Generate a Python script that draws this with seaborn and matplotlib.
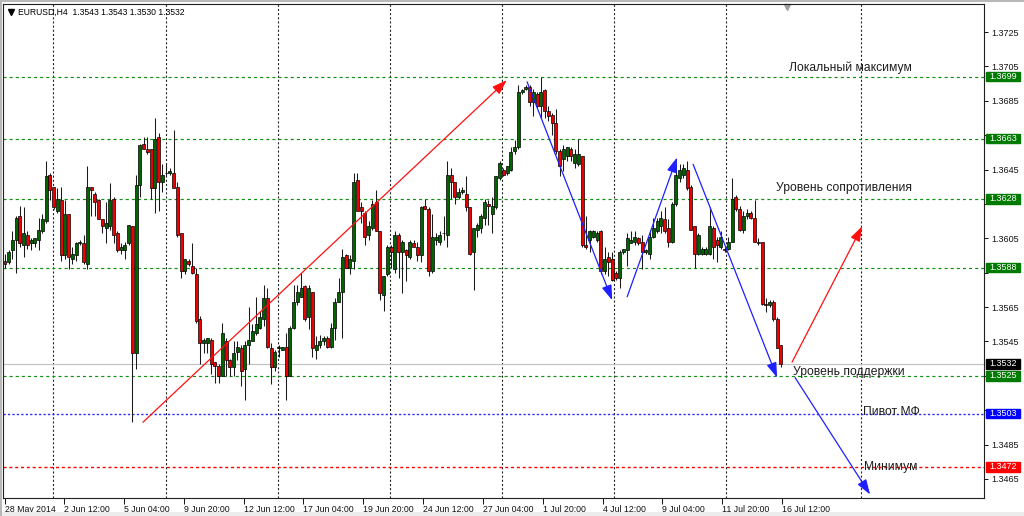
import numpy as np
import pandas as pd
import seaborn as sns
import matplotlib
matplotlib.use('Agg')
import matplotlib.pyplot as plt
import matplotlib.transforms as mtransforms
from matplotlib.patches import Rectangle

# EURUSD H4 bars
open_ = [1.3592, 1.3591, 1.3598, 1.3604, 1.3618, 1.3601, 1.3607, 1.3602, 1.3602, 1.3604,
         1.3609, 1.3615, 1.3642, 1.3635, 1.3621, 1.3627, 1.3595, 1.3619, 1.3593, 1.3595,
         1.3602, 1.3602, 1.3590, 1.3635, 1.3631, 1.3627, 1.3616, 1.3611, 1.3612, 1.3628,
         1.3608, 1.3598, 1.3598, 1.3602, 1.3612, 1.3538, 1.3636, 1.3660, 1.3657, 1.3657,
         1.3634, 1.3664, 1.3638, 1.3643, 1.3643, 1.3643, 1.3635, 1.3608, 1.3586, 1.3592,
         1.3589, 1.3584, 1.3558, 1.3544, 1.3544, 1.3546, 1.3533, 1.3531, 1.3525, 1.3545,
         1.3534, 1.3530, 1.3539, 1.3541, 1.3529, 1.3543, 1.3545, 1.3550, 1.3553, 1.3558,
         1.3570, 1.3541, 1.3530, 1.3541, 1.3540, 1.3542, 1.3525, 1.3553, 1.3568, 1.3571,
         1.3577, 1.3559, 1.3574, 1.3540, 1.3543, 1.3545, 1.3547, 1.3542, 1.3553, 1.3568,
         1.3574, 1.3595, 1.3588, 1.3592, 1.3639, 1.3623, 1.3620, 1.3607, 1.3611, 1.3626,
         1.3609, 1.3572, 1.3584, 1.3600, 1.3587, 1.3607, 1.3597, 1.3598, 1.3594, 1.3602,
         1.3600, 1.3595, 1.3624, 1.3622, 1.3586, 1.3604, 1.3603, 1.3608, 1.3607, 1.3642,
         1.3638, 1.3629, 1.3632, 1.3631, 1.3623, 1.3597, 1.3610, 1.3611, 1.3617, 1.3625,
         1.3619, 1.3623, 1.3640, 1.3645, 1.3643, 1.3645, 1.3656, 1.3658, 1.3690, 1.3692,
         1.3693, 1.3684, 1.3689, 1.3682, 1.3691, 1.3679, 1.3677, 1.3672, 1.3656, 1.3651,
         1.3653, 1.3657, 1.3649, 1.3648, 1.3653, 1.3601, 1.3604, 1.3606, 1.3604, 1.3609,
         1.3586, 1.3594, 1.3593, 1.3585, 1.3582, 1.3597, 1.3598, 1.3602, 1.3603, 1.3605,
         1.3603, 1.3597, 1.3596, 1.3606, 1.3609, 1.3612, 1.3616, 1.3611, 1.3603, 1.3625,
         1.3640, 1.3642, 1.3645, 1.3635, 1.3612, 1.3596, 1.3596, 1.3596, 1.3596, 1.3611,
         1.3604, 1.3600, 1.3599, 1.3599, 1.3603, 1.3629, 1.3622, 1.3610, 1.3618, 1.3620,
         1.3617, 1.3603, 1.3603, 1.3567, 1.3566, 1.3568, 1.3558, 1.3543]
high_ = [1.3596, 1.3598, 1.3609, 1.3618, 1.3624, 1.3623, 1.3609, 1.3605, 1.3605, 1.3617,
         1.3619, 1.3650, 1.3643, 1.3635, 1.3634, 1.3635, 1.3627, 1.3619, 1.3600, 1.3603,
         1.3604, 1.3607, 1.3647, 1.3635, 1.3632, 1.3628, 1.3616, 1.3626, 1.3637, 1.3629,
         1.3609, 1.3602, 1.3603, 1.3613, 1.3612, 1.3642, 1.3660, 1.3664, 1.3664, 1.3657,
         1.3675, 1.3666, 1.3648, 1.3648, 1.3646, 1.3668, 1.3638, 1.3608, 1.3593, 1.3593,
         1.3602, 1.3588, 1.3560, 1.3547, 1.3547, 1.3547, 1.3533, 1.3532, 1.3556, 1.3547,
         1.3535, 1.3545, 1.3545, 1.3543, 1.3545, 1.3565, 1.3555, 1.3571, 1.3563, 1.3578,
         1.3576, 1.3544, 1.3540, 1.3543, 1.3542, 1.3550, 1.3554, 1.3578, 1.3578, 1.3585,
         1.3578, 1.3578, 1.3574, 1.3548, 1.3549, 1.3548, 1.3548, 1.3556, 1.3570, 1.3582,
         1.3599, 1.3596, 1.3595, 1.3643, 1.3643, 1.3626, 1.3621, 1.3615, 1.3627, 1.3633,
         1.3609, 1.3583, 1.3601, 1.3601, 1.3609, 1.3608, 1.3604, 1.3599, 1.3604, 1.3604,
         1.3603, 1.3624, 1.3628, 1.3623, 1.3619, 1.3608, 1.3609, 1.3618, 1.3650, 1.3646,
         1.3638, 1.3634, 1.3635, 1.3641, 1.3623, 1.3611, 1.3614, 1.3619, 1.3628, 1.3627,
         1.3629, 1.3641, 1.3650, 1.3646, 1.3647, 1.3658, 1.3662, 1.3694, 1.3692, 1.3694,
         1.3694, 1.3692, 1.3690, 1.3699, 1.3692, 1.3682, 1.3678, 1.3680, 1.3657, 1.3659,
         1.3658, 1.3658, 1.3657, 1.3663, 1.3653, 1.3618, 1.3610, 1.3610, 1.3609, 1.3610,
         1.3600, 1.3597, 1.3597, 1.3586, 1.3598, 1.3599, 1.3608, 1.3609, 1.3609, 1.3606,
         1.3607, 1.3599, 1.3610, 1.3617, 1.3617, 1.3621, 1.3623, 1.3616, 1.3626, 1.3648,
         1.3648, 1.3648, 1.3650, 1.3636, 1.3612, 1.3608, 1.3600, 1.3600, 1.3623, 1.3612,
         1.3606, 1.3609, 1.3600, 1.3606, 1.3640, 1.3630, 1.3624, 1.3621, 1.3622, 1.3621,
         1.3627, 1.3605, 1.3603, 1.3570, 1.3569, 1.3569, 1.3559, 1.3543]
low_ = [1.3588, 1.3590, 1.3593, 1.3585, 1.3600, 1.3594, 1.3599, 1.3598, 1.3600, 1.3598,
        1.3608, 1.3614, 1.3627, 1.3622, 1.3620, 1.3592, 1.3593, 1.3587, 1.3590, 1.3592,
        1.3601, 1.3590, 1.3587, 1.3618, 1.3618, 1.3616, 1.3608, 1.3602, 1.3610, 1.3602,
        1.3597, 1.3596, 1.3593, 1.3601, 1.3498, 1.3529, 1.3629, 1.3657, 1.3654, 1.3628,
        1.3620, 1.3621, 1.3632, 1.3641, 1.3642, 1.3634, 1.3606, 1.3582, 1.3584, 1.3589,
        1.3584, 1.3556, 1.3532, 1.3538, 1.3538, 1.3526, 1.3521, 1.3521, 1.3525, 1.3525,
        1.3525, 1.3525, 1.3534, 1.3519, 1.3511, 1.3532, 1.3545, 1.3549, 1.3552, 1.3554,
        1.3541, 1.3520, 1.3528, 1.3536, 1.3540, 1.3511, 1.3525, 1.3552, 1.3566, 1.3571,
        1.3557, 1.3552, 1.3536, 1.3535, 1.3541, 1.3543, 1.3541, 1.3541, 1.3546, 1.3568,
        1.3547, 1.3588, 1.3584, 1.3587, 1.3621, 1.3614, 1.3601, 1.3604, 1.3610, 1.3609,
        1.3569, 1.3563, 1.3583, 1.3588, 1.3585, 1.3582, 1.3573, 1.3580, 1.3593, 1.3600,
        1.3592, 1.3591, 1.3622, 1.3583, 1.3585, 1.3601, 1.3601, 1.3604, 1.3600, 1.3628,
        1.3625, 1.3628, 1.3631, 1.3621, 1.3595, 1.3575, 1.3606, 1.3608, 1.3613, 1.3613,
        1.3608, 1.3622, 1.3639, 1.3641, 1.3642, 1.3644, 1.3654, 1.3657, 1.3689, 1.3691,
        1.3682, 1.3676, 1.3681, 1.3675, 1.3675, 1.3673, 1.3665, 1.3654, 1.3641, 1.3644,
        1.3650, 1.3650, 1.3646, 1.3647, 1.3600, 1.3599, 1.3597, 1.3605, 1.3603, 1.3584,
        1.3584, 1.3583, 1.3580, 1.3581, 1.3576, 1.3596, 1.3589, 1.3602, 1.3601, 1.3601,
        1.3587, 1.3596, 1.3593, 1.3605, 1.3608, 1.3608, 1.3608, 1.3600, 1.3602, 1.3624,
        1.3638, 1.3640, 1.3633, 1.3610, 1.3588, 1.3595, 1.3595, 1.3595, 1.3595, 1.3593,
        1.3591, 1.3599, 1.3597, 1.3598, 1.3603, 1.3621, 1.3609, 1.3608, 1.3616, 1.3616,
        1.3603, 1.3601, 1.3566, 1.3562, 1.3565, 1.3557, 1.3541, 1.3530]
close_ = [1.3590, 1.3597, 1.3604, 1.3617, 1.3602, 1.3608, 1.3601, 1.3604, 1.3605, 1.3610,
          1.3616, 1.3641, 1.3633, 1.3623, 1.3628, 1.3595, 1.3619, 1.3594, 1.3596, 1.3602,
          1.3603, 1.3591, 1.3635, 1.3633, 1.3626, 1.3616, 1.3612, 1.3614, 1.3627, 1.3607,
          1.3598, 1.3600, 1.3601, 1.3613, 1.3538, 1.3636, 1.3659, 1.3657, 1.3655, 1.3634,
          1.3663, 1.3638, 1.3642, 1.3643, 1.3644, 1.3634, 1.3607, 1.3586, 1.3593, 1.3590,
          1.3585, 1.3557, 1.3544, 1.3546, 1.3547, 1.3532, 1.3531, 1.3525, 1.3550, 1.3534,
          1.3530, 1.3538, 1.3542, 1.3528, 1.3543, 1.3546, 1.3551, 1.3555, 1.3559, 1.3570,
          1.3542, 1.3530, 1.3539, 1.3542, 1.3542, 1.3525, 1.3553, 1.3568, 1.3574, 1.3576,
          1.3558, 1.3576, 1.3541, 1.3543, 1.3545, 1.3547, 1.3542, 1.3553, 1.3568, 1.3574,
          1.3594, 1.3588, 1.3593, 1.3638, 1.3621, 1.3621, 1.3606, 1.3612, 1.3625, 1.3609,
          1.3573, 1.3583, 1.3600, 1.3597, 1.3607, 1.3597, 1.3603, 1.3595, 1.3603, 1.3600,
          1.3595, 1.3623, 1.3622, 1.3586, 1.3606, 1.3606, 1.3607, 1.3608, 1.3642, 1.3638,
          1.3629, 1.3632, 1.3633, 1.3623, 1.3596, 1.3611, 1.3613, 1.3618, 1.3626, 1.3624,
          1.3624, 1.3641, 1.3649, 1.3642, 1.3647, 1.3655, 1.3658, 1.3690, 1.3691, 1.3693,
          1.3684, 1.3690, 1.3682, 1.3690, 1.3679, 1.3676, 1.3672, 1.3656, 1.3647, 1.3657,
          1.3658, 1.3653, 1.3654, 1.3654, 1.3601, 1.3600, 1.3609, 1.3609, 1.3608, 1.3586,
          1.3593, 1.3591, 1.3581, 1.3582, 1.3597, 1.3599, 1.3605, 1.3604, 1.3606, 1.3602,
          1.3597, 1.3598, 1.3606, 1.3611, 1.3615, 1.3617, 1.3609, 1.3603, 1.3625, 1.3642,
          1.3645, 1.3646, 1.3634, 1.3610, 1.3596, 1.3607, 1.3599, 1.3599, 1.3612, 1.3600,
          1.3601, 1.3606, 1.3598, 1.3603, 1.3628, 1.3622, 1.3610, 1.3618, 1.3620, 1.3617,
          1.3603, 1.3602, 1.3567, 1.3566, 1.3568, 1.3558, 1.3541, 1.3532]

tick_pos = [0, 15.8, 31.8, 47.8, 63.8, 79.5, 95.5, 111.5, 127.5, 143.5, 159.5, 175.3, 191.3, 207.3]
tick_labels = ['28 May 2014', '2 Jun 12:00', '5 Jun 04:00', '9 Jun 20:00', '12 Jun 12:00',
               '17 Jun 04:00', '19 Jun 20:00', '24 Jun 12:00', '27 Jun 04:00', '1 Jul 20:00',
               '4 Jul 12:00', '9 Jul 04:00', '11 Jul 20:00', '16 Jul 12:00']
price_ticks = [1.3465, 1.3485, 1.3505, 1.3525, 1.3545, 1.3565, 1.3585, 1.3605,
               1.3625, 1.3645, 1.3665, 1.3685, 1.3705, 1.3725]
grid_pos = [12.8, 43.0, 72.8, 102.7, 132.6, 162.5, 192.4, 228.4]

green_levels = [1.3699, 1.3663, 1.3628, 1.3588, 1.3525]
pivot_level = 1.3503
min_level = 1.3472
bid_price = 1.3532

# arrows: (bar_from, price_from, bar_to, price_to)
red_arrows = [(36.8, 1.3498, 133.9, 1.3697), (210.0, 1.3533, 228.7, 1.3612)]
blue_arrows = [(139.3, 1.3696, 162.0, 1.3569), (166.0, 1.3571, 179.3, 1.3652),
               (183.6, 1.3648, 206.0, 1.3524), (210.8, 1.3524, 230.8, 1.3456)]
notes = [('Локальный максимум', 209.2, 1.37041), ('Уровень сопротивления', 205.7, 1.36343),
         ('Уровень поддержки', 210.2, 1.35272), ('Пивот МФ', 228.9, 1.35040),
         ('Минимум', 229.2, 1.34720)]

df = pd.DataFrame({'open': open_, 'high': high_, 'low': low_, 'close': close_})
df['bar'] = np.arange(len(df))
df['high'] = df[['open', 'high', 'close']].max(axis=1)
df['low'] = df[['open', 'low', 'close']].min(axis=1)

sns.set_style('white')
plt.rcParams['font.family'] = ['Liberation Sans', 'DejaVu Sans']
plt.rcParams['lines.scale_dashes'] = False

W, H = 1024, 516
fig = plt.figure(figsize=(W / 100, H / 100), dpi=100)
fig.patch.set_facecolor('white')

# chart frame in pixels
left, right, top, bottom = 3, 984, 4, 498
bar0_px, bar_px = 5, 3.748
px_per_price = 17192
ax = fig.add_axes([left / W, 1 - bottom / H, (right - left) / W, (bottom - top) / H])
ax.set_facecolor('white')
ax.set_xlim((left - bar0_px) / bar_px, (right - bar0_px) / bar_px)
ax.set_ylim(1.3725 - (bottom - 32) / px_per_price, 1.3725 + (32 - top) / px_per_price)

for g in grid_pos:
    ax.axvline(g, color='#222222', lw=0.8, dashes=(1.5, 1.5), zorder=0.5)

for lv in green_levels:
    ax.axhline(lv, color='#109010', lw=0.85, dashes=(2.2, 2.2), zorder=1)
ax.axhline(pivot_level, color='#2a2aff', lw=1.0, dashes=(1.6, 1.6), zorder=1)
ax.axhline(min_level, color='#ff0000', lw=1.0, dashes=(2.2, 2.0), zorder=1)
ax.axhline(bid_price, color='#c0c0c0', lw=0.8, zorder=1)

# candles
up = df[df['close'] >= df['open']]
dn = df[df['close'] < df['open']]
ax.vlines(df['bar'], df['low'], df['high'], color='#1a1a1a', lw=0.75, zorder=2)
ax.bar(up['bar'], up['close'] - up['open'], bottom=up['open'], width=0.8,
       color='#006400', edgecolor='black', linewidth=0.5, zorder=3)
ax.bar(dn['bar'], dn['close'] - dn['open'], bottom=dn['open'], width=0.8,
       color='#ee0000', edgecolor='black', linewidth=0.5, zorder=3)

for arrows, col in ((red_arrows, '#ff1010'), (blue_arrows, '#1f1fff')):
    for x0, y0, x1, y1 in arrows:
        ax.annotate('', xy=(x1, y1), xytext=(x0, y0), zorder=4, annotation_clip=False,
                    arrowprops=dict(arrowstyle='-|>,head_length=0.65,head_width=0.22',
                                    color=col, lw=0.9, shrinkA=0, shrinkB=0,
                                    mutation_scale=14))

for txt, bx, py in notes:
    ax.text(bx, py, txt, fontsize=8.7, color='#1e1e1e', ha='left', va='center', zorder=5)

# axes, ticks
for s in ax.spines.values():
    s.set_color('#202020')
    s.set_linewidth(0.8)
ax.yaxis.tick_right()
ax.set_yticks(price_ticks)
# labels that sit under a price box stay hidden, as on the terminal
box_levels = green_levels + [bid_price, pivot_level, min_level]
ylabels = []
for p in price_ticks:
    hidden = any(abs(p - lv) * px_per_price < 9 for lv in box_levels)
    ylabels.append('' if hidden else f'{p:.4f}')
ax.set_yticklabels(ylabels)
ax.tick_params(axis='y', direction='out', length=3, width=0.7, pad=2, labelsize=6.5,
               colors='#111111', right=True, left=False)
ax.set_xticks(tick_pos)
ax.set_xticklabels(tick_labels)
ax.tick_params(axis='x', direction='out', length=4, width=0.7, pad=1.2, labelsize=6.3,
               colors='#111111', bottom=True)
for lab in ax.get_xticklabels():
    lab.set_ha('left')

# price boxes on the right scale
blend = mtransforms.blended_transform_factory(fig.transFigure, ax.transData)
box_h = 9.5 / px_per_price
boxes = [(lv, '#007a00') for lv in green_levels] + [(bid_price, 'black'), (pivot_level, '#0000ff'),
                                                     (min_level, '#ff0000')]
for lv, col in boxes:
    ax.add_patch(Rectangle(((right + 2) / W, lv - box_h / 2), 34 / W, box_h, transform=blend,
                           facecolor=col, edgecolor=col, clip_on=False, zorder=6))
    ax.text((right + 19) / W, lv, f'{lv:.4f}', transform=blend, fontsize=6.5, color='white',
            ha='center', va='center', zorder=7, clip_on=False)

# header line
ax.plot([(11 - left) / (right - left)], [1 - (12 - top) / (bottom - top)], marker='v', ms=4,
        color='black', transform=ax.transAxes, clip_on=False)
ax.text((18 - left) / (right - left), 1 - (12 - top) / (bottom - top),
        'EURUSD,H4  1.3543 1.3543 1.3530 1.3532', transform=ax.transAxes, fontsize=6.2,
        color='black', ha='left', va='center')
# chart shift marker
ax.plot([(787 - left) / (right - left)], [1 - 3 / (bottom - top)], marker='v', ms=5,
        color='#a0a0a0', transform=ax.transAxes, clip_on=False)

# window borders
fig.patches.append(Rectangle((0, 1 - 2 / H), 1, 2 / H, transform=fig.transFigure,
                             facecolor='#b8b8b8', edgecolor='none'))
fig.patches.append(Rectangle((0, 0), 1, 4 / H, transform=fig.transFigure,
                             facecolor='#ececec', edgecolor='none'))
fig.patches.append(Rectangle((0, 0), 1.5 / W, 1, transform=fig.transFigure,
                             facecolor='#b8b8b8', edgecolor='none'))

fig.savefig('out.png', dpi=100, facecolor='white')
